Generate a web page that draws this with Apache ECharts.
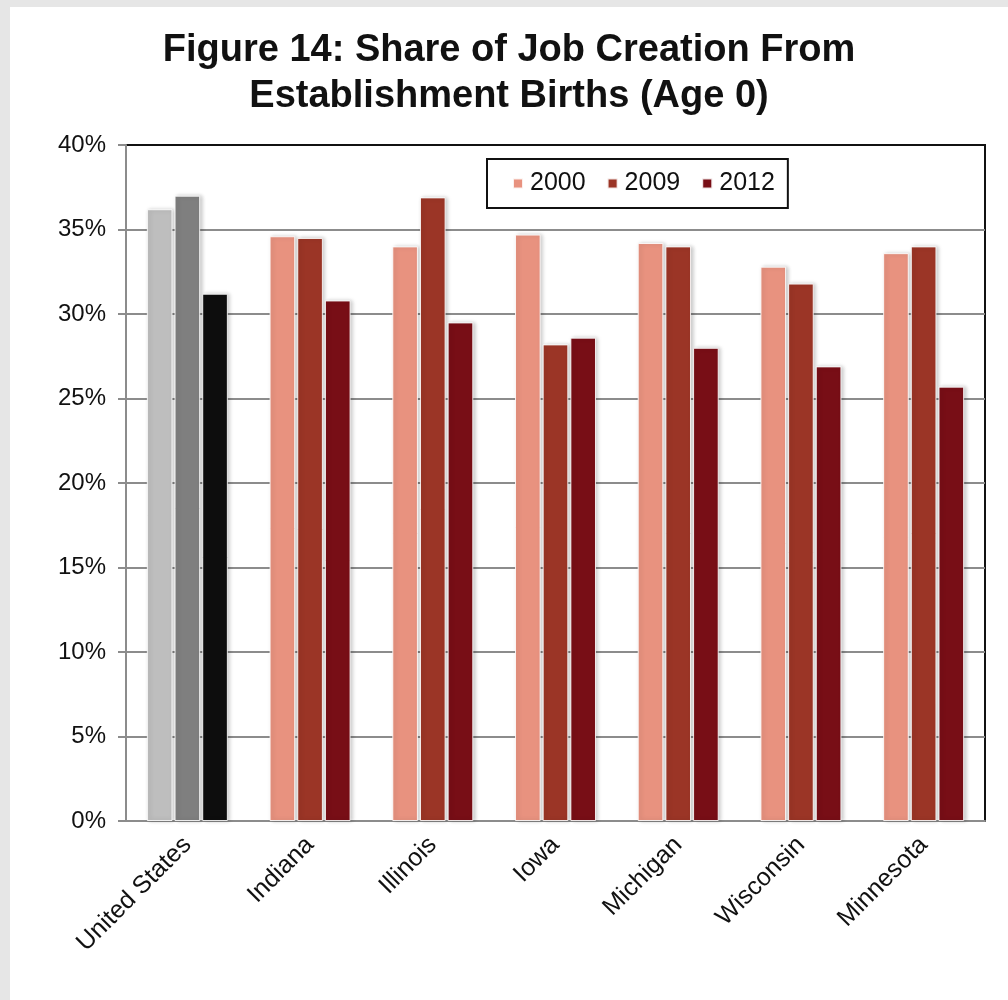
<!DOCTYPE html>
<html>
<head>
<meta charset="utf-8">
<script src="https://cdn.jsdelivr.net/npm/echarts@6/dist/echarts.min.js"></script>
<style>
  body { margin: 0; background: #e6e6e6; }
  #main { position: absolute; left: 10px; top: 7px; width: 998px; height: 993px; background: #fff; }
</style>
</head>
<body>
<div id="main"></div>
<script>
// data
var categories = ['United States', 'Indiana', 'Illinois', 'Iowa', 'Michigan', 'Wisconsin', 'Minnesota'];
var years = ['2000', '2009', '2012'];
var share2000 = [36.2, 34.6, 34.0, 34.7, 34.2, 32.8, 33.6];
var share2009 = [37.0, 34.5, 36.9, 28.2, 34.0, 31.8, 34.0];
var share2012 = [31.2, 30.8, 29.5, 28.6, 28.0, 26.9, 25.7];
var yTicks = [0, 5, 10, 15, 20, 25, 30, 35, 40];

var stateColors = ['#E8927F', '#9B3526', '#780E16'];
var usColors = ['#BEBEBE', '#7F7F7F', '#0D0D0D'];

function makeSeries(name, values, idx) {
  return {
    name: name,
    type: 'bar',
    barGap: '8%',
    barCategoryGap: '34%',
    itemStyle: {
      color: stateColors[idx],
      borderColor: 'rgba(255,255,255,0.85)',
      borderWidth: 1,
      shadowBlur: 4,
      shadowOffsetX: 2,
      shadowColor: 'rgba(0,0,0,0.22)'
    },
    data: values.map(function (v, i) {
      if (i === 0) return { value: v, itemStyle: { color: usColors[idx] } };
      return v;
    })
  };
}

var myChart = echarts.init(document.getElementById('main'));
var option = {
  animation: false,
  textStyle: { fontFamily: 'Liberation Sans, Arial, sans-serif' },
  title: {
    text: 'Figure 14: Share of Job Creation From\nEstablishment Births (Age 0)',
    left: 'center',
    top: 16,
    textStyle: { fontSize: 38, fontWeight: 'bold', color: '#111', lineHeight: 46 }
  },
  legend: {
    data: years,
    left: 477,
    top: 152,
    orient: 'horizontal',
    padding: [12, 13, 12, 25],
    itemWidth: 10,
    itemHeight: 10,
    itemGap: 21,
    icon: 'rect',
    borderColor: '#111',
    borderWidth: 2,
    textStyle: { fontSize: 25, color: '#111', padding: [0, 0, 0, 2] }
  },
  grid: {
    left: 116,
    top: 138,
    right: 23,
    bottom: 179,
    show: true,
    borderColor: '#111',
    borderWidth: 2
  },
  xAxis: {
    type: 'category',
    data: categories,
    axisLine: { lineStyle: { color: '#8c8c8c', width: 2 } },
    axisTick: { length: 8, lineStyle: { color: '#8c8c8c', width: 2 } },
    axisLabel: { rotate: 45, fontSize: 25, color: '#111', margin: 20 }
  },
  yAxis: {
    type: 'value',
    min: yTicks[0],
    max: yTicks[yTicks.length - 1],
    interval: 5,
    axisLine: { show: true, lineStyle: { color: '#8c8c8c', width: 2 } },
    axisTick: { show: true, length: 8, lineStyle: { color: '#8c8c8c', width: 2 } },
    axisLabel: { formatter: '{value}%', fontSize: 24, color: '#111', margin: 20 },
    splitLine: { showMaxLine: false, lineStyle: { color: '#8c8c8c', width: 2 } }
  },
  series: [
    makeSeries(years[0], share2000, 0),
    makeSeries(years[1], share2009, 1),
    makeSeries(years[2], share2012, 2)
  ]
};
myChart.setOption(option);
</script>
</body>
</html>
